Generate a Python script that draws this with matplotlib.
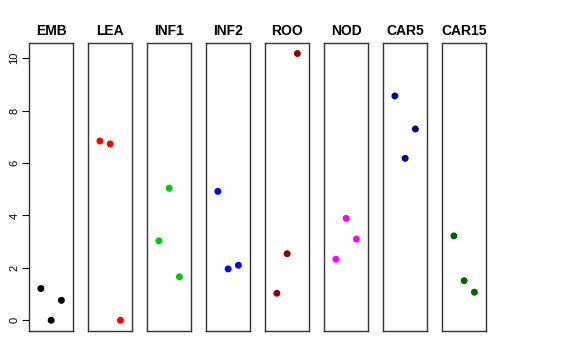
import matplotlib
matplotlib.use("Agg")
import matplotlib.pyplot as plt

plt.rcParams['font.family'] = ['Liberation Sans', 'DejaVu Sans']

groups = ["EMB", "LEA", "INF1", "INF2", "ROO", "NOD", "CAR5", "CAR15"]
colors = ["black", "red", "#00CD00", "blue", "#8B0000", "magenta", "#00008B", "#006400"]
values = [
    [1.21, 0.0, 0.76],
    [6.84, 6.73, 0.0],
    [3.03, 5.04, 1.66],
    [4.92, 1.96, 2.10],
    [1.03, 2.54, 10.18],
    [2.33, 3.89, 3.10],
    [8.56, 6.18, 7.30],
    [3.22, 1.51, 1.07],
]
positions = [1, 2, 3]
yticks = [0, 2, 4, 6, 8, 10]

fig = plt.figure(figsize=(5.76, 3.6), dpi=100)
W, H = 576.0, 360.0
left0, step, width = 29.0, 59.0, 44.3
top, bottom = 43.3, 331.0
ymin, ymax = -0.41, 10.57

for i, (g, c, v) in enumerate(zip(groups, colors, values)):
    ax = fig.add_axes([(left0 + i * step) / W, 1 - bottom / H, width / W, (bottom - top) / H])
    ax.scatter(positions, v, s=25, color=c, edgecolors='none', zorder=3)
    ax.set_xlim(-0.16, 4.16)
    ax.set_ylim(ymin, ymax)
    ax.set_xticks([])
    for sp in ax.spines.values():
        sp.set_color("#333333")
        sp.set_linewidth(1.0)
    ax.set_title(g, fontsize=10, fontweight='bold', pad=6)
    if i == 0:
        ax.set_yticks(yticks)
        ax.set_yticklabels([str(t) for t in yticks], rotation=90, va='center', fontsize=8)
        ax.tick_params(axis='y', length=5, width=0.8, pad=2)
    else:
        ax.set_yticks([])

fig.savefig("out.png", dpi=100)
